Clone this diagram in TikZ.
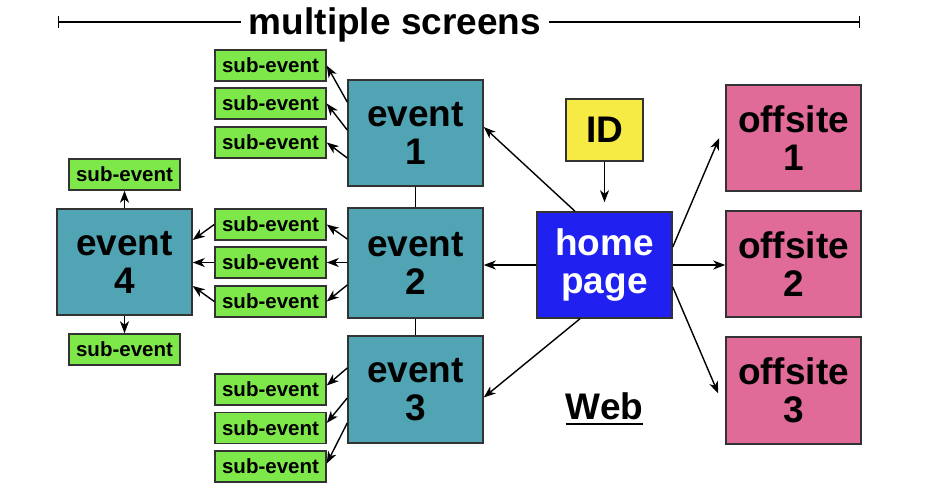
\documentclass[tikz,border=0pt]{standalone}
\usepackage{fontspec}
\setmainfont{Liberation Sans}
\usetikzlibrary{arrows.meta}
\definecolor{teal}{HTML}{50A4B4}
\definecolor{subgreen}{HTML}{7EE84A}
\definecolor{homeblue}{HTML}{2020F0}
\definecolor{idyellow}{HTML}{F6EB45}
\definecolor{offpink}{HTML}{E06A98}
\definecolor{edge}{HTML}{333333}
\tikzset{
  bigtext/.style={font=\fontsize{37}{38}\selectfont\bfseries, align=center},
  box/.style={draw=edge, line width=1.5pt, inner sep=0pt},
  eventbox/.style={box, bigtext, fill=teal, minimum width=135pt, minimum height=106pt},
  offbox/.style={box, bigtext, fill=offpink, minimum width=135pt, minimum height=106pt},
  homebox/.style={box, bigtext, fill=homeblue, text=white, minimum width=135pt, minimum height=106pt},
  idbox/.style={box, bigtext, fill=idyellow, minimum width=77pt, minimum height=62pt},
  subbox/.style={box, fill=subgreen, font=\fontsize{20.5}{22}\selectfont\bfseries, minimum width=111pt, minimum height=31pt},
  conn/.style={line width=1.4pt, -{Stealth[length=12pt,width=9pt,inset=3.5pt]}},
  plain/.style={line width=1.4pt}
}
\begin{document}
\begin{tikzpicture}[x=1pt,y=-1pt]
\useasboundingbox (0,0) rectangle (938,498);
% title
\node[bigtext, anchor=base, inner xsep=8pt, inner ysep=0pt] (title) at (395,34) {multiple screens};
\coordinate (tl) at (58,22);
\coordinate (tr) at (860,22);
\draw[plain, {Bar[width=12pt]}-] (tl) -- (tl -| title.west);
\draw[plain, -{Bar[width=12pt]}] (tr -| title.east) -- (tr);
% main boxes
\node[eventbox] (e1) at (415.5,133) {event\\1};
\node[eventbox, minimum height=110pt] (e2) at (415.5,263) {event\\2};
\node[eventbox, minimum height=107pt] (e3) at (415.5,389.5) {event\\3};
\node[eventbox] (e4) at (124.5,262) {event\\4};
\node[homebox] (home) at (604.5,265) {home\\page};
\node[idbox] (id) at (604.5,130) {ID};
\node[offbox] (o1) at (793.5,138) {offsite\\1};
\node[offbox] (o2) at (793.5,264) {offsite\\2};
\node[offbox, minimum height=107pt] (o3) at (793.5,390.5) {offsite\\3};
% sub-events
\node[subbox] (s11) at (270.5,65.5) {sub-event};
\node[subbox] (s12) at (270.5,103.5) {sub-event};
\node[subbox] (s13) at (270.5,142.5) {sub-event};
\node[subbox] (s21) at (270.5,224.5) {sub-event};
\node[subbox] (s22) at (270.5,262.5) {sub-event};
\node[subbox] (s23) at (270.5,301.5) {sub-event};
\node[subbox] (s31) at (270.5,389.5) {sub-event};
\node[subbox] (s32) at (270.5,428) {sub-event};
\node[subbox] (s33) at (270.5,466.5) {sub-event};
\node[subbox] (s4a) at (124.5,174.5) {sub-event};
\node[subbox] (s4b) at (124.5,349.5) {sub-event};
% Web label
\node[bigtext, anchor=base, inner sep=0pt] (web) at (604.5,419) {Web};
\draw[line width=2.6pt] ([yshift=-5pt]web.base west) -- ([yshift=-5pt]web.base east);
% event connectors
\draw[plain] (e1.south) -- (e2.north);
\draw[plain] (e2.south) -- (e3.north);
\draw[conn] ([yshift=31pt]e1.west) -- (s11.east);
\draw[conn] ([yshift=3pt]e1.west) -- (s12.east);
\draw[conn] ([yshift=-25pt]e1.west) -- (s13.east);
\draw[conn] ([yshift=24pt]e2.west) -- (s21.east);
\draw[conn] (s22.east -| e2.west) -- (s22.east);
\draw[conn] ([yshift=-22pt]e2.west) -- (s23.east);
\draw[conn] (s21.west) -- ([yshift=22pt]e4.east);
\draw[conn] (s22.west) -- (s22.west -| e4.east);
\draw[conn] (s23.west) -- ([yshift=-24pt]e4.east);
\draw[conn] (e4.north) -- (s4a.south);
\draw[conn] (e4.south) -- (s4b.north);
\draw[conn] ([yshift=21.5pt]e3.west) -- ([yshift=4pt]s31.east);
\draw[conn] ([yshift=-8.5pt]e3.west) -- ([yshift=5pt]s32.east);
\draw[conn] ([yshift=-33.5pt]e3.west) -- ([yshift=3pt]s33.east);
% home connectors
\draw[conn] (id.south) -- ([yshift=9pt]home.north);
\draw[conn] ([xshift=-29.5pt]home.north) -- ([yshift=6pt]e1.east);
\draw[conn] (home.west) -- (home.west -| e2.east);
\draw[conn] ([xshift=-24.5pt]home.south) -- ([yshift=-8pt]e3.east);
\draw[conn] ([yshift=18pt]home.east) -- ([xshift=-6pt]o1.west);
\draw[conn] (home.east) -- (home.east -| o2.west);
\draw[conn] ([yshift=-22pt]home.east) -- ([xshift=-7pt,yshift=-3pt]o3.west);
\end{tikzpicture}
\end{document}
